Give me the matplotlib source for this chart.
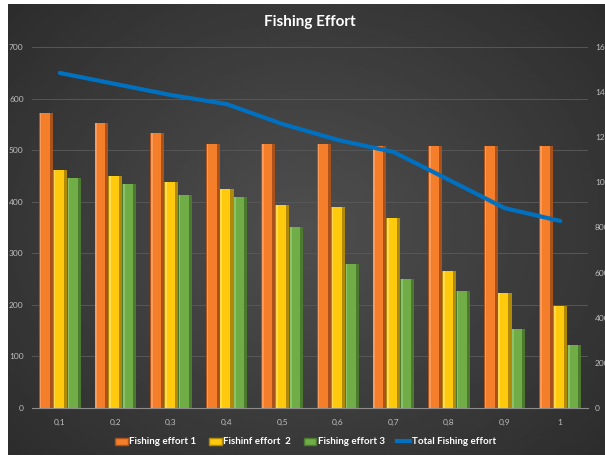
import numpy as np
import matplotlib.pyplot as plt
from matplotlib.patches import Patch
from matplotlib.lines import Line2D

categories = ['0,1', '0,2', '0,3', '0,4', '0,5', '0,6', '0,7', '0,8', '0,9', '1']
effort1 = [572, 553, 533, 512, 512, 512, 508, 508, 508, 508]
effort2 = [462, 450, 438, 425, 394, 390, 368, 266, 223, 198]
effort3 = [446, 434, 413, 409, 351, 279, 250, 227, 153, 122]
total = [1485, 1436, 1387, 1347, 1259, 1188, 1135, 1011, 886, 829]

names = ['Fishing effort 1', 'Fishinf effort  2', 'Fishing effort 3', 'Total Fishing effort']
face = ['#F57E2A', '#FFC90E', '#70AD47']
light = ['#F89A5B', '#FFDA4F', '#8CC26A']
dark = ['#A9521B', '#B08A06', '#4C7A2F']
line_col = '#0070C0'
txt = '#BFBFBF'

plt.rcParams['font.family'] = ['Lato', 'DejaVu Sans']

fig = plt.figure(figsize=(6.05, 4.59), dpi=100)
fig.patch.set_facecolor('white')

# dark radial gradient background
bg = fig.add_axes([8 / 605, 4 / 459, 1 - 8 / 605, 451 / 459])
yy, xx = np.mgrid[-1:1:200j, -1:1:260j]
r = np.sqrt(xx ** 2 + (yy * 0.9) ** 2)
bg.imshow(0.31 - 0.14 * np.clip(r, 0, 1.4) / 1.4, cmap='gray', vmin=0, vmax=1,
          aspect='auto', extent=[0, 1, 0, 1])
bg.set_axis_off()

ax = fig.add_axes([32 / 605, 51 / 459, 556 / 605, 361 / 459])
ax.patch.set_alpha(0)
x = np.arange(len(categories))
w = 0.25
for i, vals in enumerate([effort1, effort2, effort3]):
    pos = x + (i - 1) * w
    ax.bar(pos, vals, width=w, color=dark[i], zorder=2)
    ax.bar(pos - w * 0.08, vals, width=w * 0.72, color=face[i], zorder=3)
    ax.bar(pos - w * 0.38, vals, width=w * 0.12, color=light[i], zorder=4)

ax.set_xlim(-0.5, len(categories) - 0.5)
ax.set_ylim(0, 700)
ax.set_yticks(range(0, 701, 100))
ax.set_xticks(x)
ax.set_xticklabels(categories)
ax.tick_params(axis='both', length=0, labelsize=6, colors=txt)
ax.tick_params(axis='y', pad=6)
ax.tick_params(axis='x', pad=8)
ax.grid(axis='y', color='#575757', linewidth=0.7, zorder=0)
for s in ['top', 'right', 'left']:
    ax.spines[s].set_visible(False)
ax.spines['bottom'].set_color('#8c8c8c')

ax2 = ax.twinx()
ax2.plot(x, total, color=line_col, linewidth=3, solid_capstyle='round', zorder=5)
ax2.set_ylim(0, 1600)
ax2.set_yticks(range(0, 1601, 200))
ax2.tick_params(axis='y', length=0, labelsize=6, colors=txt, pad=5)
for s in ['top', 'right', 'left', 'bottom']:
    ax2.spines[s].set_visible(False)

fig.text(0.512, 1 - 22 / 459, 'Fishing Effort', ha='center', va='center',
         color='white', fontsize=11, fontweight='bold')

handles = [Patch(facecolor=face[i], edgecolor=dark[i]) for i in range(3)]
handles.append(Line2D([0], [0], color=line_col, linewidth=3))
leg = fig.legend(handles, names, loc='center', bbox_to_anchor=(0.505, 1 - 442 / 459),
                 ncol=4, frameon=False, fontsize=7, handlelength=1.3,
                 handletextpad=0.15, columnspacing=1.3)
for t in leg.get_texts():
    t.set_color('white')
    t.set_fontweight('bold')

plt.savefig('out.png', dpi=100, facecolor=fig.get_facecolor())
